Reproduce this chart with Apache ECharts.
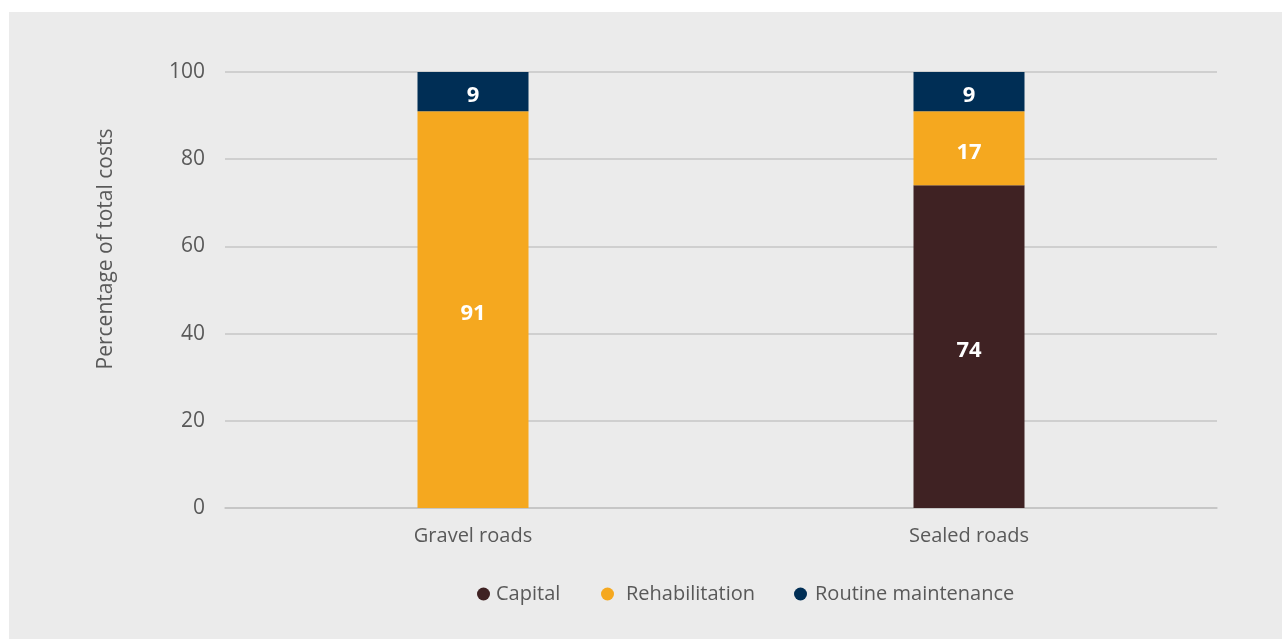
<!DOCTYPE html>
<html>
<head>
<meta charset="utf-8">
<script src="https://cdn.jsdelivr.net/npm/echarts@6/dist/echarts.min.js"></script>
<style>
  html, body { margin: 0; padding: 0; background: #ffffff; }
  #chart { position: absolute; left: 9px; top: 12px; width: 1273px; height: 627px; }
</style>
</head>
<body>
<div id="chart"></div>
<script>
// Share of total road costs by cost type
const categories = ['Gravel roads', 'Sealed roads'];
const seriesNames = ['Capital', 'Rehabilitation', 'Routine maintenance'];
const capital = [0, 74];
const rehabilitation = [91, 17];
const routineMaintenance = [9, 9];
const yTicks = [0, 20, 40, 60, 80, 100];

const FONT = '"Open Sans", sans-serif';
const TEXT = '#595959';
const COLORS = ['#3f2223', '#f5a81f', '#002e55'];

function barLabel() {
  return {
    show: true,
    position: 'inside',
    offset: [0, 4],
    color: '#ffffff',
    fontFamily: FONT,
    fontWeight: 'bold',
    fontSize: 22,
    formatter: p => (p.value ? String(p.value) : '')
  };
}

// one legend per item so each entry can sit at its own spot
function legendItem(name, left, textGap) {
  return {
    left: left,
    top: 567,
    icon: 'circle',
    itemWidth: 13,
    itemHeight: 13,
    textStyle: { color: TEXT, fontSize: 20, fontFamily: FONT, padding: [0, 0, 0, textGap] },
    data: [name]
  };
}

const chart = echarts.init(document.getElementById('chart'));
chart.setOption({
  backgroundColor: '#ebebeb',
  animation: false,
  textStyle: { fontFamily: FONT },
  grid: { left: 216, right: 65, top: 60, bottom: 131 },
  legend: [
    legendItem(seriesNames[0], 463, 1),
    legendItem(seriesNames[1], 587, 7),
    legendItem(seriesNames[2], 780, 3)
  ],
  xAxis: {
    type: 'category',
    data: categories,
    axisLine: { show: true, lineStyle: { color: '#c3c3c3', width: 1.5 } },
    axisTick: { show: false },
    axisLabel: { color: TEXT, fontSize: 20, margin: 18, fontFamily: FONT }
  },
  yAxis: {
    type: 'value',
    min: yTicks[0],
    max: yTicks[yTicks.length - 1],
    interval: yTicks[1] - yTicks[0],
    name: 'Percentage of total costs',
    nameLocation: 'middle',
    nameGap: 108,
    // left padding lifts the rotated title above the axis midpoint
    nameTextStyle: { color: TEXT, fontSize: 21, fontFamily: FONT, padding: [0, 0, 0, 82] },
    axisLine: { show: false },
    axisTick: { show: false },
    axisLabel: { color: TEXT, fontSize: 21, margin: 20, fontFamily: FONT },
    splitLine: { lineStyle: { color: '#c6c6c6', width: 1.5 } }
  },
  series: [
    {
      name: seriesNames[0], type: 'bar', stack: 'total', barWidth: 111,
      itemStyle: { color: COLORS[0] }, label: barLabel(), data: capital
    },
    {
      name: seriesNames[1], type: 'bar', stack: 'total', barWidth: 111,
      itemStyle: { color: COLORS[1] }, label: barLabel(), data: rehabilitation
    },
    {
      name: seriesNames[2], type: 'bar', stack: 'total', barWidth: 111,
      itemStyle: { color: COLORS[2] }, label: barLabel(), data: routineMaintenance
    }
  ]
});
</script>
</body>
</html>
